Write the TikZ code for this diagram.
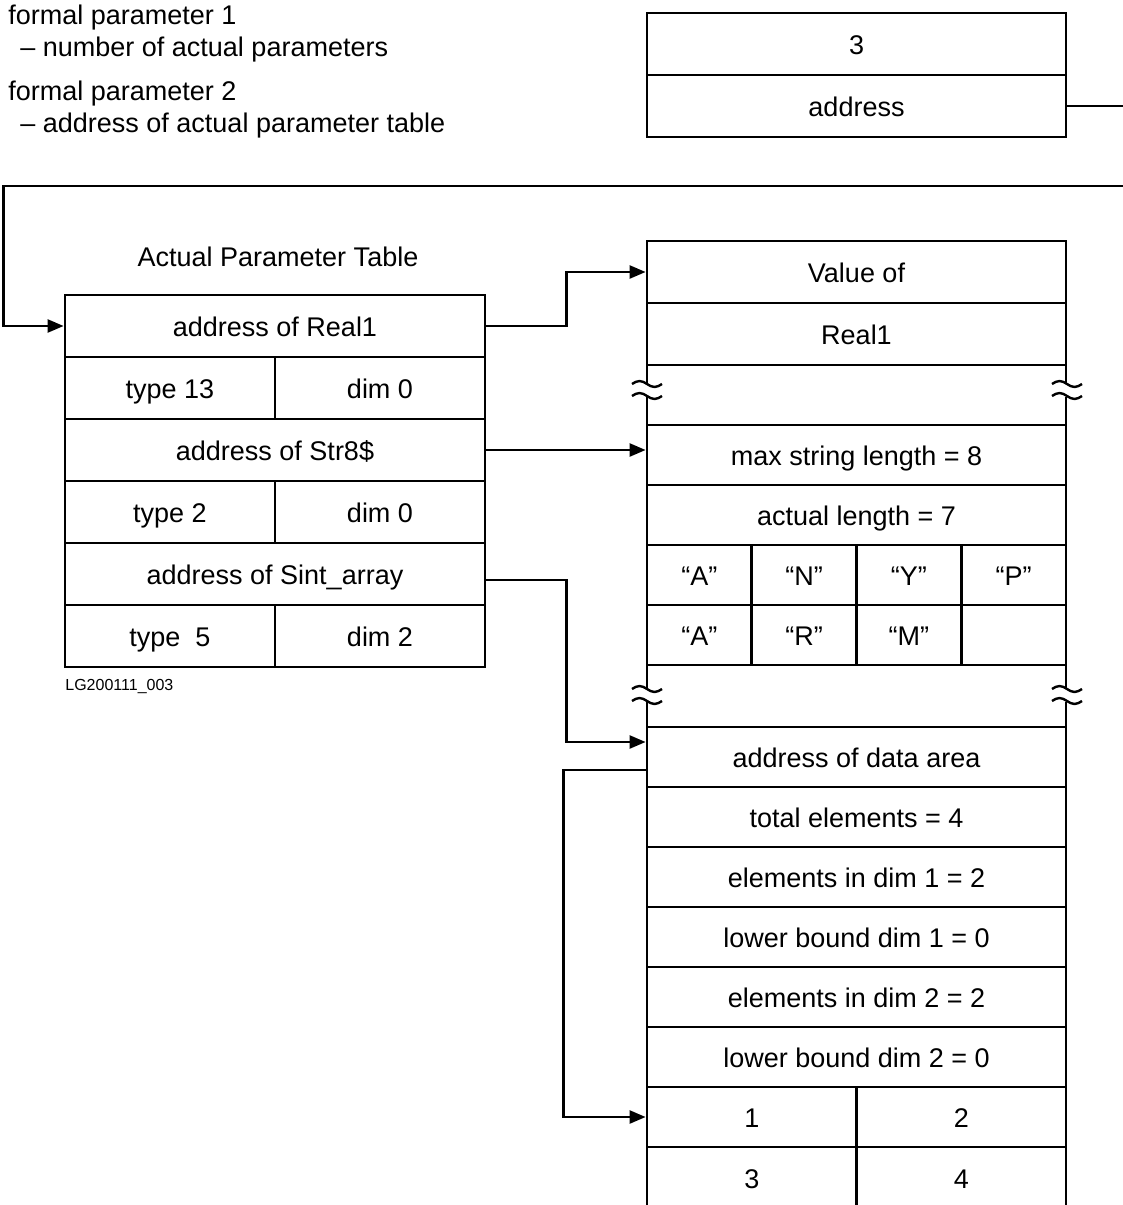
\documentclass[tikz,border=0pt]{standalone}
\usepackage{fontspec}
\setmainfont{Liberation Sans}
\usetikzlibrary{arrows.meta,calc}
\newcommand\cellfont{\fontsize{13.5}{16}\selectfont}
\tikzset{
  row/.style={draw, line width=1.4pt, inner sep=0pt, minimum width=209.5pt, minimum height=30pt, text height=10.4pt, text depth=0pt, font=\cellfont},
  half/.style={row, minimum width=104.75pt},
  quarter/.style={row, minimum width=52.375pt},
  tabrow/.style={row, minimum width=210pt, minimum height=31pt},
  tabhalf/.style={tabrow, minimum width=105pt},
  note/.style={anchor=west, align=left, inner sep=0pt, font=\cellfont},
  link/.style={line width=1.2pt},
  arrow/.style={link, -{Triangle[length=8pt,width=6.5pt]}},
  gapmark/.pic={
    \draw[line width=1.2pt] (-15,-6) sin (-7.5,-9) cos (0,-6) sin (7.5,-3) cos (15,-6);
    \draw[line width=1.2pt] (-15,6) sin (-7.5,3) cos (0,6) sin (7.5,9) cos (15,6);
  }
}

\begin{document}
\begin{tikzpicture}[x=0.5pt, y=-0.5pt]
  \useasboundingbox (0,0) rectangle (1123,1205);
  \node[note] (fp1) at (8,34) {formal parameter 1\\\hspace*{6pt}– number of actual parameters};
  \node[note] (fp2) at (8,110) {formal parameter 2\\\hspace*{6pt}– address of actual parameter table};
  \node[row, minimum height=31pt] (cnt) at (856.5,44) {3};
  \node[row, minimum height=31pt] (adr) at (856.5,106) {address};
  \coordinate (outR) at (1123,106);
  \coordinate (inR) at (1123,186);

  \node[font=\cellfont] (title) at (278,257) {Actual Parameter Table};
  \node[tabrow] (p1) at (275,326) {address of Real1};
  \node[tabhalf] (t1) at (170,388) {type 13};
  \node[tabhalf] (d1) at (380,388) {dim 0};
  \node[tabrow] (p2) at (275,450) {address of Str8\$};
  \node[tabhalf] (t2) at (170,512) {type 2};
  \node[tabhalf] (d2) at (380,512) {dim 0};
  \node[tabrow] (p3) at (275,574) {address of Sint\_array};
  \node[tabhalf] (t3) at (170,636) {type\ \ 5};
  \node[tabhalf] (d3) at (380,636) {dim 2};
  \node[anchor=west, inner sep=0pt, font=\fontsize{8}{9}\selectfont] (tag) at (65,686) {LG200111\_003};

  \node[row, minimum height=31pt] (v1) at (856.5,272) {Value of};
  \node[row, minimum height=31pt] (v2) at (856.5,334) {Real1};
  \draw[line width=1.4pt] (647,365) -- (647,383) (647,397) -- (647,425);
  \draw[line width=1.4pt] (1066,365) -- (1066,383) (1066,397) -- (1066,425);
  \pic at (647,390) {gapmark};
  \pic at (1067,390) {gapmark};
  \node[row] (s1) at (856.5,455) {max string length = 8};
  \node[row] (s2) at (856.5,515) {actual length = 7};
  \foreach \ch [count=\i] in {“A”,“N”,“Y”,“P”}
    \node[quarter] (c1\i) at ({647+104.75*(\i-0.5)},575) {\ch};
  \foreach \ch [count=\i] in {“A”,“R”,“M”,{}}
    \node[quarter] (c2\i) at ({647+104.75*(\i-0.5)},635) {\ch};
  \draw[line width=1.4pt] (647,665) -- (647,688) (647,702) -- (647,727);
  \draw[line width=1.4pt] (1066,665) -- (1066,688) (1066,702) -- (1066,727);
  \pic at (647,695) {gapmark};
  \pic at (1067,695) {gapmark};

  \node[row] (a0) at (856.5,757) {address of data area};
  \foreach \txt [count=\i] in {total elements = 4, elements in dim 1 = 2, lower bound dim 1 = 0, elements in dim 2 = 2, lower bound dim 2 = 0}
    \node[row] (a\i) at (856.5,{757+60*\i}) {\txt};
  \node[half] (e1) at (751.75,1117) {1};
  \node[half] (e2) at (961.25,1117) {2};
  \node[half, minimum height=31pt] (e3) at (751.75,1178) {3};
  \node[half, minimum height=31pt] (e4) at (961.25,1178) {4};

  \draw[link] (adr.east) -- (outR);
  \draw[arrow] (inR) -| ($(p1.west)+(-60,0)$) -- (p1.west);
  \draw[arrow] (p1.east) -- ++(80,0) |- (v1.west);
  \draw[arrow] (p2.east) -- (p2.east -| s1.west);
  \draw[arrow] ($(p3.east)+(0,6)$) -- ++(80,0) |- ($(a0.west)+(0,-15)$);
  \draw[arrow] ($(a0.west)+(0,13)$) -- ++(-82,0) |- (e1.west);
\end{tikzpicture}
\end{document}
